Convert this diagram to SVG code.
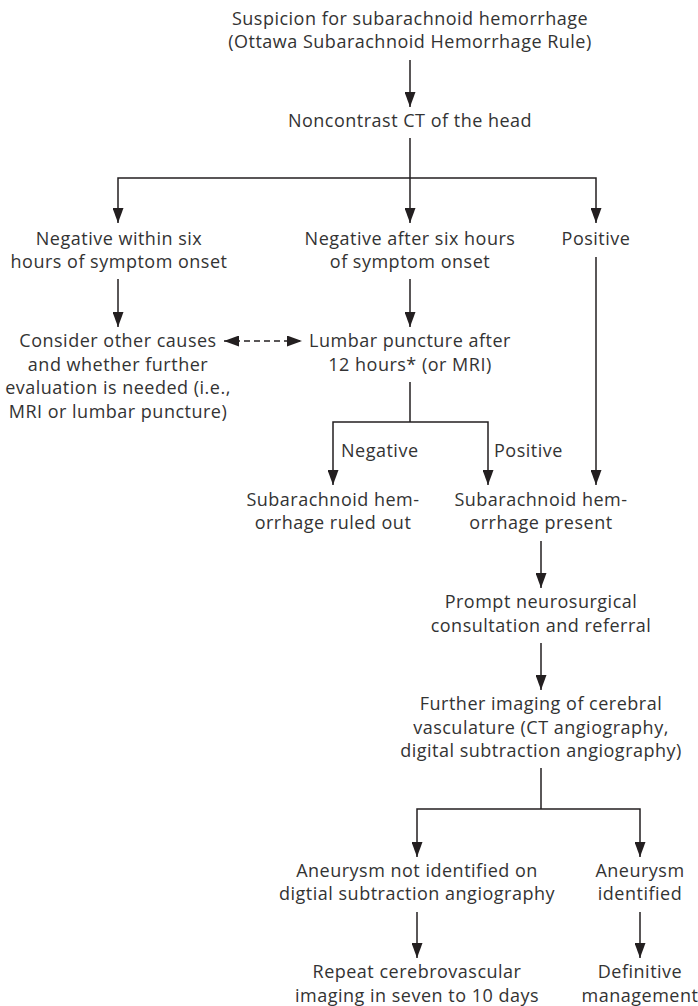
<svg xmlns="http://www.w3.org/2000/svg" width="698" height="1006" viewBox="0 0 698 1006">
<defs>
<style>
text{font-family:"Open Sans","Noto Sans","Liberation Sans",sans-serif;font-size:18px;fill:#333333;letter-spacing:0.5px;text-anchor:middle}
text.lbl{text-anchor:start}
.c{fill:none;stroke:#231f20;stroke-width:1.5}
.d{stroke-dasharray:6 4}
</style>
<marker id="ah2" markerUnits="userSpaceOnUse" markerWidth="15" markerHeight="11" viewBox="0 0 15 11" refX="15" refY="5.5" orient="auto-start-reverse">
<path d="M0,0 L15,5.5 L0,11 z" fill="#231f20"/>
</marker>
</defs>
<rect width="698" height="1006" fill="#ffffff"/>
<g id="connectors">
<line class="c" x1="410" y1="60" x2="410" y2="107" marker-end="url(#ah2)"/>
<polyline class="c" points="410,138 410,178"/>
<polyline class="c" points="118,223 118,178 596,178 596,223" marker-start="url(#ah2)" marker-end="url(#ah2)"/>
<line class="c" x1="410" y1="178" x2="410" y2="223" marker-end="url(#ah2)"/>
<line class="c" x1="118" y1="279" x2="118" y2="327" marker-end="url(#ah2)"/>
<line class="c" x1="410" y1="279" x2="410" y2="327" marker-end="url(#ah2)"/>
<line class="c" x1="596" y1="257" x2="596" y2="485" marker-end="url(#ah2)"/>
<line class="c d" x1="224" y1="341" x2="302" y2="341" marker-start="url(#ah2)" marker-end="url(#ah2)"/>
<polyline class="c" points="410,382 410,422"/>
<polyline class="c" points="333,485 333,422 488,422 488,485" marker-start="url(#ah2)" marker-end="url(#ah2)"/>
<line class="c" x1="541" y1="541" x2="541" y2="588" marker-end="url(#ah2)"/>
<line class="c" x1="541" y1="643" x2="541" y2="690" marker-end="url(#ah2)"/>
<polyline class="c" points="541,768 541,809"/>
<polyline class="c" points="417,857 417,809 640,809 640,857" marker-start="url(#ah2)" marker-end="url(#ah2)"/>
<line class="c" x1="417" y1="912" x2="417" y2="958" marker-end="url(#ah2)"/>
<line class="c" x1="640" y1="912" x2="640" y2="958" marker-end="url(#ah2)"/>
<text class="lbl" x="341" y="457">Negative</text>
<text class="lbl" x="494" y="457">Positive</text>
</g>
<g id="n-suspicion"><text x="410" y="25">Suspicion for subarachnoid hemorrhage</text><text x="410" y="48">(Ottawa Subarachnoid Hemorrhage Rule)</text></g>
<g id="n-ct"><text x="410" y="127">Noncontrast CT of the head</text></g>
<g id="n-neg-within"><text x="119" y="245">Negative within six</text><text x="119" y="268">hours of symptom onset</text></g>
<g id="n-neg-after"><text x="410" y="245">Negative after six hours</text><text x="410" y="268">of symptom onset</text></g>
<g id="n-positive"><text x="596" y="245">Positive</text></g>
<g id="n-consider"><text x="118" y="347">Consider other causes</text><text x="118" y="371">and whether further</text><text x="118" y="394">evaluation is needed (i.e.,</text><text x="118" y="418">MRI or lumbar puncture)</text></g>
<g id="n-lumbar"><text x="410" y="347">Lumbar puncture after</text><text x="410" y="371">12 hours* (or MRI)</text></g>
<g id="n-ruled-out"><text x="333" y="506">Subarachnoid hem-</text><text x="333" y="529">orrhage ruled out</text></g>
<g id="n-present"><text x="541" y="506">Subarachnoid hem-</text><text x="541" y="529">orrhage present</text></g>
<g id="n-prompt"><text x="541" y="608">Prompt neurosurgical</text><text x="541" y="632">consultation and referral</text></g>
<g id="n-further"><text x="541" y="710">Further imaging of cerebral</text><text x="541" y="734">vasculature (CT angiography,</text><text x="541" y="757">digital subtraction angiography)</text></g>
<g id="n-not-identified"><text x="417" y="877">Aneurysm not identified on</text><text x="417" y="900">digtial subtraction angiography</text></g>
<g id="n-identified"><text x="640" y="877">Aneurysm</text><text x="640" y="900">identified</text></g>
<g id="n-repeat"><text x="417" y="978">Repeat cerebrovascular</text><text x="417" y="1002">imaging in seven to 10 days</text></g>
<g id="n-definitive"><text x="640" y="978">Definitive</text><text x="640" y="1002">management</text></g>
</svg>
